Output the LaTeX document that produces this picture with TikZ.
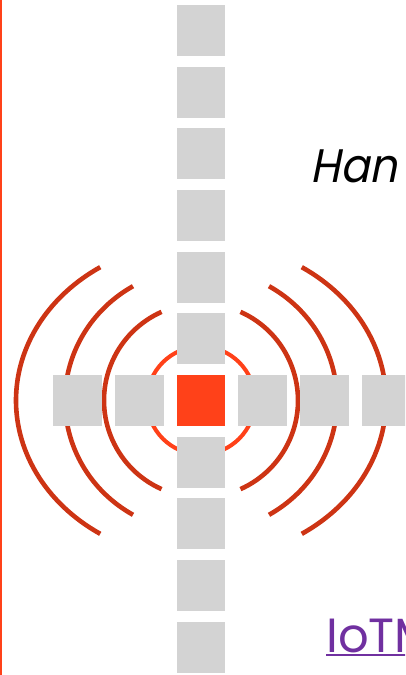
\documentclass[tikz,border=0pt]{standalone}
\usepackage{fontspec}
\newfontfamily\gothic{Poppins}
\newfontfamily\gothicslant[FakeSlant=0.2, FakeStretch=0.92]{Poppins}
\usetikzlibrary{positioning}
\definecolor{tileGray}{RGB}{211,211,211}
\definecolor{hubRed}{RGB}{255,65,25}
\definecolor{waveRed}{RGB}{205,52,20}
\definecolor{linkPurple}{RGB}{112,48,160}

\begin{document}
\begin{tikzpicture}[x=1pt, y=-1pt, line join=round,
  tile/.style={fill=tileGray, draw=none, inner sep=0pt, minimum width=49pt, minimum height=51pt},
  wave/.style={draw=waveRed, line width=4.6pt},
  hubring/.style={draw=hubRed, line width=4pt}]
  % ========================================================
  % 0. FRAME
  % ========================================================
  \useasboundingbox (0,0) rectangle (405,675);
  \clip (0,0) rectangle (405,675);
  \draw[hubRed, line width=1.6pt] (0.8,0) -- (0.8,675);

  \coordinate (hub) at (201,400.5);

  % ========================================================
  % 1. SIGNAL WAVES (behind the tiles)
  % ========================================================
  \draw[hubring] (hub) circle[radius=54];

  % inner pair
  \draw[wave] (hub) ++(-66:97) arc[start angle=-66, end angle=66, radius=97];
  \draw[wave] (hub) ++(114:97) arc[start angle=114, end angle=246, radius=97];
  % middle pair
  \draw[wave] (hub) ++(-60:136 and 132) arc[start angle=-60, end angle=60, x radius=136, y radius=132];
  \draw[wave] (hub) ++(120:136 and 132) arc[start angle=120, end angle=240, x radius=136, y radius=132];
  % outer pair
  \draw[wave] (hub) ++(-57:185 and 159) arc[start angle=-57, end angle=57, x radius=185, y radius=159];
  \draw[wave] (hub) ++(123:185 and 159) arc[start angle=123, end angle=237, x radius=185, y radius=159];

  % ========================================================
  % 2. TILE CROSS
  % ========================================================
  \foreach \k in {-6,-5,-4,-3,-2,-1,1,2,3,4}
    \node[tile, minimum width=48.5pt] (col\k) at (201,400.5+61.7*\k) {};
  \foreach \k in {-2,-1,1,2,3}
    \node[tile] (row\k) at (201+61.9*\k,400.5) {};
  \node[tile, fill=hubRed, minimum width=48.5pt] (core) at (hub) {};

  % ========================================================
  % 3. TEXT
  % ========================================================
  \node[anchor=base west, inner sep=0pt, font=\gothicslant\fontsize{47}{47}\selectfont] (title) at (310,182) {Han};

  \node[anchor=base west, inner sep=0pt, text=linkPurple, font=\gothic\fontsize{48}{48}\selectfont] (link) at (326,652) {IoTM};
  \draw[linkPurple, line width=2pt] ([yshift=-3pt]link.base west) -- ([yshift=-3pt]link.base east);

\end{tikzpicture}
\end{document}
